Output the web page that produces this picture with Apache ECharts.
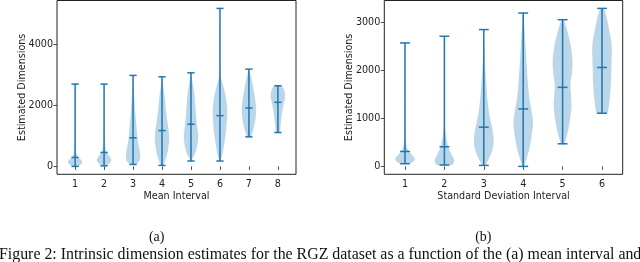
<!DOCTYPE html>
<html><head><meta charset="utf-8">
<script src="https://cdn.jsdelivr.net/npm/echarts@6/dist/echarts.min.js"></script>
<style>html,body{margin:0;padding:0;background:#fff}#c{width:640px;height:262px}</style>
</head><body><div id="c"></div>
<script>
// ---- Data ----
const meanCategories = [1, 2, 3, 4, 5, 6, 7, 8];
const meanMins    = [0, 20, 65, 33, 176, 176, 968, 1109];
const meanMedians = [293, 456, 936, 1174, 1382, 1663, 1914, 2100];
const meanMaxes   = [2696, 2696, 2980, 2935, 3065, 5175, 3186, 2641];
// relative violin widths: [value, density relative to violin's maximum]
const meanDensity = [
  [[0,0.35],[60,0.75],[140,1.0],[220,0.8],[300,0.45],[400,0.2],[550,0.08],[800,0.03],[1500,0.015],[2696,0.01]],
  [[20,0.3],[100,0.75],[200,1.0],[300,0.85],[400,0.55],[500,0.3],[650,0.15],[850,0.06],[1200,0.025],[2000,0.01],[2696,0.005]],
  [[65,0.35],[150,0.8],[300,1.0],[450,0.95],[650,0.8],[850,0.65],[1100,0.55],[1500,0.4],[1800,0.3],[2100,0.22],[2400,0.12],[2650,0.04],[2980,0.01]],
  [[33,0.15],[200,0.45],[450,0.75],[700,0.92],[950,1.0],[1200,0.9],[1500,0.72],[1900,0.52],[2300,0.36],[2600,0.18],[2800,0.06],[2935,0.02]],
  [[176,0.05],[300,0.3],[450,0.6],[700,0.88],[1000,1.0],[1300,0.85],[1600,0.72],[2000,0.6],[2400,0.46],[2700,0.26],[2900,0.1],[3065,0.01]],
  [[176,0.08],[300,0.22],[450,0.4],[750,0.6],[1100,0.82],[1500,0.95],[1850,1.0],[2200,0.85],[2500,0.6],[2750,0.32],[2950,0.12],[3300,0.03],[4000,0.01],[5175,0.005]],
  [[968,0.25],[1100,0.47],[1400,0.8],[1650,0.95],[1850,1.0],[2100,0.92],[2300,0.8],[2600,0.58],[2900,0.32],[3100,0.1],[3186,0.03]],
  [[1109,0.25],[1300,0.35],[1500,0.45],[1750,0.58],[2050,0.8],[2280,1.0],[2480,0.9],[2580,0.72],[2641,0.45]]
];
const meanYTicks = [0, 2000, 4000];

const stdCategories = [1, 2, 3, 4, 5, 6];
const stdMins    = [56, 29, 21, 0, 472, 1110];
const stdMedians = [312, 410, 819, 1200, 1650, 2066];
const stdMaxes   = [2578, 2717, 2857, 3202, 3063, 3299];
const stdDensity = [
  [[56,0.5],[100,0.85],[160,1.0],[230,0.75],[300,0.45],[400,0.2],[550,0.08],[800,0.03],[1500,0.01],[2578,0.005]],
  [[29,0.75],[80,0.95],[130,1.0],[200,0.85],[280,0.65],[380,0.45],[500,0.28],[650,0.15],[850,0.06],[1100,0.02],[1600,0.01],[2717,0.005]],
  [[21,0.12],[140,0.46],[280,0.77],[480,1.0],[700,0.94],[900,0.75],[1100,0.55],[1400,0.37],[1750,0.24],[2100,0.12],[2450,0.05],[2857,0.01]],
  [[0,0.05],[140,0.31],[420,0.68],[700,0.9],[900,1.0],[1110,0.89],[1390,0.65],[1730,0.48],[2080,0.37],[2430,0.26],[2770,0.17],[3050,0.08],[3202,0.03]],
  [[472,0.12],[520,0.26],[700,0.5],[970,0.75],[1250,0.9],[1520,0.84],[1730,0.8],[2010,0.98],[2220,1.0],[2500,0.85],[2770,0.55],[2950,0.3],[3063,0.08]],
  [[1110,0.55],[1140,0.61],[1390,0.77],[1730,0.9],[2080,0.95],[2430,1.0],[2600,0.95],[2770,0.8],[3050,0.53],[3220,0.32],[3299,0.15]]
];
const stdYTicks = [0, 1000, 2000, 3000];

const xNames = ['Mean Interval', 'Standard Deviation Interval'];
const yName = 'Estimated Dimensions';
const subCaptions = ['(a)', '(b)'];
const figCaption = 'Figure 2: Intrinsic dimension estimates for the RGZ dataset as a function of the (a) mean interval and';

// ---- Helpers ----
const BLUE = '#1f77b4';
const FONT = 'DejaVu Sans';
function yRange(mins, maxes){
  const lo = Math.min(...mins), hi = Math.max(...maxes), m = 0.05*(hi-lo);
  return [lo-m, hi+m];
}
function xRange(n){
  const m = 0.05*(n-0.5);
  return [0.75-m, n+0.25+m];
}
function makeRender(density){
  return function(params, api){
    const i = params.dataIndex;
    const pos = api.value(0), mn = api.value(1), md = api.value(2), mx = api.value(3);
    const unit = api.size([1, 0])[0];
    const hw = 0.25*unit, cap = 0.125*unit;
    const right = [], left = [];
    density[i].forEach(function(d){
      const p = api.coord([pos, d[0]]);
      right.push([p[0] + d[1]*hw, p[1]]);
      left.push([p[0] - d[1]*hw, p[1]]);
    });
    const pts = right.concat(left.reverse());
    const t = api.coord([pos, mx]), b = api.coord([pos, mn]), m = api.coord([pos, md]);
    const ls = {stroke: BLUE, lineWidth: 1.5};
    function capLine(p){ return {type:'line', shape:{x1:p[0]-cap, y1:p[1], x2:p[0]+cap, y2:p[1]}, style: ls}; }
    return {type:'group', children:[
      {type:'polygon', shape:{points: pts, smooth: 0.35}, style:{fill:'rgba(31,119,180,0.3)'}},
      {type:'line', shape:{x1:t[0], y1:t[1], x2:b[0], y2:b[1]}, style: ls},
      capLine(t), capLine(b), capLine(m)
    ]};
  };
}
const plain = v => String(v);
function axisX(idx, n, name){
  const r = xRange(n);
  const vals = Array.from({length:n}, (_, k) => k+1);
  return {type:'value', gridIndex: idx, min: r[0], max: r[1], name: name,
    nameLocation:'middle', nameGap: 17, nameMoveOverlap: false,
    nameTextStyle:{fontFamily: FONT, fontSize: 9.6, color:'#222'},
    axisLine:{show:false}, splitLine:{show:false},
    axisTick:{show:true, length:3.5, lineStyle:{color:'#222', width:0.8}, customValues: vals},
    axisLabel:{show:true, margin:5, fontFamily: FONT, fontSize: 9.6, color:'#222', customValues: vals, formatter: plain}
  };
}
function axisY(idx, mins, maxes, ticks){
  const r = yRange(mins, maxes);
  return {type:'value', gridIndex: idx, min: r[0], max: r[1], name: yName,
    nameLocation:'middle', nameGap: 30, nameMoveOverlap: false,
    nameTextStyle:{fontFamily: FONT, fontSize: 9.6, color:'#222'},
    axisLine:{show:false}, splitLine:{show:false},
    axisTick:{show:true, length:3.5, lineStyle:{color:'#222', width:0.8}, customValues: ticks},
    axisLabel:{show:true, margin:4, fontFamily: FONT, fontSize: 9.6, color:'#222', customValues: ticks, formatter: plain}
  };
}

// caption font size fitted to the page width
const cv = document.createElement('canvas').getContext('2d');
cv.font = '14px "Liberation Serif"';
const capSize = 14 * 643 / cv.measureText(figCaption).width;

const chart = echarts.init(document.getElementById('c'), null, {renderer:'canvas'});
chart.setOption({
  animation: false,
  backgroundColor: '#fff',
  grid: [
    {left: 57, top: 0.5, width: 239, height: 173.8, show: true, borderColor:'#222', borderWidth: 1, backgroundColor:'transparent'},
    {left: 384.3, top: 0.5, width: 238.4, height: 173.8, show: true, borderColor:'#222', borderWidth: 1, backgroundColor:'transparent'}
  ],
  xAxis: [axisX(0, meanCategories.length, xNames[0]), axisX(1, stdCategories.length, xNames[1])],
  yAxis: [axisY(0, meanMins, meanMaxes, meanYTicks), axisY(1, stdMins, stdMaxes, stdYTicks)],
  series: [
    {type:'custom', xAxisIndex:0, yAxisIndex:0, renderItem: makeRender(meanDensity),
      data: meanCategories.map((c, i) => [c, meanMins[i], meanMedians[i], meanMaxes[i]])},
    {type:'custom', xAxisIndex:1, yAxisIndex:1, renderItem: makeRender(stdDensity),
      data: stdCategories.map((c, i) => [c, stdMins[i], stdMedians[i], stdMaxes[i]])}
  ],
  graphic: [
    {type:'text', x: 156.7, y: 237, style:{text: subCaptions[0], font:'14px "Liberation Serif"', fill:'#111', textAlign:'center', textVerticalAlign:'middle'}},
    {type:'text', x: 483.3, y: 237, style:{text: subCaptions[1], font:'14px "Liberation Serif"', fill:'#111', textAlign:'center', textVerticalAlign:'middle'}},
    {type:'text', x: -1, y: 247, style:{text: figCaption, font: capSize.toFixed(2) + 'px "Liberation Serif"', fill:'#111', textAlign:'left', textVerticalAlign:'top'}}
  ]
});
</script>
</body></html>
